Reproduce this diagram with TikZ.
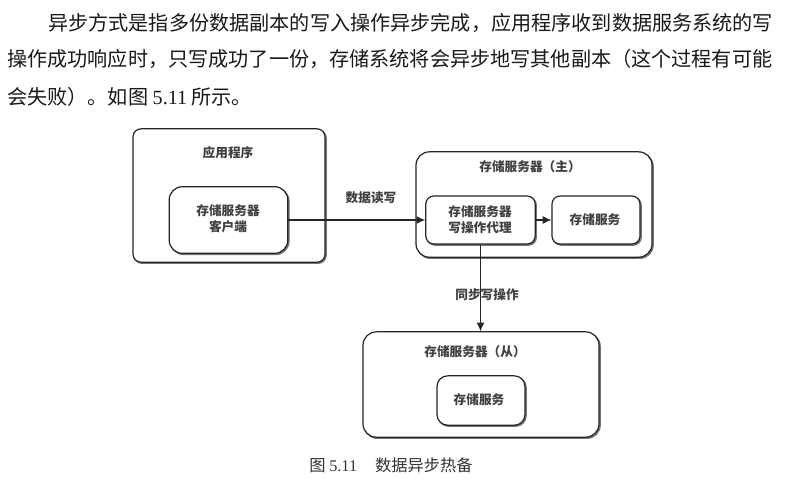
\documentclass[tikz,border=0pt]{standalone}
\usepackage{fontspec}
\setmainfont{Noto Sans CJK SC}
\newfontfamily\latinpart{Liberation Serif}
\usetikzlibrary{shadows,arrows.meta}
\tikzset{
  x=0.75pt,y=-0.75pt,
  boxbase/.style={draw=black!85,line width=0.9pt,fill=white,inner sep=0pt,
    copy shadow={draw=black!55,fill=black!55,shadow xshift=0.9pt,shadow yshift=-0.9pt}},
  bodytext/.style={font=\fontsize{15.1}{15}\selectfont,text=black!90,anchor=west,inner sep=0pt},
  lab/.style={font=\fontsize{9.5}{12}\selectfont\bfseries,text=black!75,inner sep=0pt,align=center},
  captext/.style={font=\fontsize{12.2}{12}\selectfont,text=black!80,inner sep=0pt},
  conn/.style={draw=black!85,line width=0.8pt,-{Latex[length=6.5pt,width=6pt]}}
}
\begin{document}
\begin{tikzpicture}
\useasboundingbox (0,0) rectangle (791,480);
\fill[white] (0,0) rectangle (791,480);
% body text
\node[bodytext] (l1) at (48,23) {异步方式是指多份数据副本的写入操作异步完成，应用程序收到数据服务系统的写};
\node[bodytext] (l2) at (7,59) {操作成功响应时，只写成功了一份，存储系统将会异步地写其他副本（这个过程有可能};
\node[bodytext] (l3) at (7,97) {会失败）。如图 {\latinpart 5.11} 所示。};
% boxes
\node[boxbase,rounded corners=6pt,minimum width=144pt,minimum height=100pt] (app) at (229,195.5) {};
\node[boxbase,rounded corners=10pt,minimum width=89pt,minimum height=50pt] (client) at (228.5,220) {};
\node[boxbase,rounded corners=10pt,minimum width=177pt,minimum height=79pt] (master) at (534,204.5) {};
\node[boxbase,rounded corners=6pt,minimum width=82pt,minimum height=36pt] (proxy) at (480.5,220) {};
\node[boxbase,rounded corners=6pt,minimum width=66pt,minimum height=36pt] (svc) at (596,220) {};
\node[boxbase,rounded corners=10pt,minimum width=177pt,minimum height=79pt] (slave) at (481,384.5) {};
\node[boxbase,rounded corners=8pt,minimum width=66pt,minimum height=37pt] (ssvc) at (481,400.5) {};
% connectors
\draw[conn] (client.east) -- (proxy.west);
\draw[conn] (proxy.east) -- (svc.west);
\draw[conn] (proxy.south) -- (proxy.south |- slave.north);
% labels
\node[lab] (tapp) at (228,153) {应用程序};
\node[lab] (tclient) at (228,219) {存储服务器\\客户端};
\node[lab] (trw) at (371,198) {数据读写};
\node[lab] (tmaster) at (530,167) {存储服务器（主）};
\node[lab] (tproxy) at (480,220) {存储服务器\\写操作代理};
\node[lab] (tsvc) at (595,220) {存储服务};
\node[lab] (tsync) at (487,295) {同步写操作};
\node[lab] (tslave) at (475,352) {存储服务器（从）};
\node[lab] (tssvc) at (479,400) {存储服务};
\node[captext] (caption) at (391,465) {图 {\latinpart 5.11}\hspace{1.1em}数据异步热备};
\end{tikzpicture}
\end{document}
